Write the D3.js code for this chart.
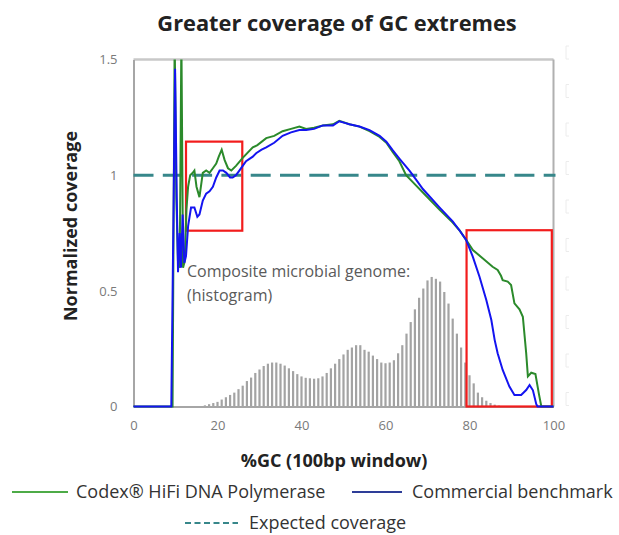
<!DOCTYPE html>
<html>
<head>
<meta charset="utf-8">
<script src="https://cdn.jsdelivr.net/npm/d3@7"></script>
<style>
  body { margin: 0; background: #fff; }
  svg { font-family: "Open Sans", sans-serif; }
</style>
</head>
<body>
<svg id="chart" width="619" height="535"></svg>
<script>
// histogram of the composite genome (one bar per %GC)
const histGC = d3.range(17, 88);
const histVal = [0.005, 0.01, 0.015, 0.02, 0.03, 0.04, 0.05, 0.06, 0.075, 0.09, 0.11,
  0.125, 0.145, 0.16, 0.175, 0.185, 0.19, 0.19, 0.185, 0.177, 0.165, 0.153, 0.14,
  0.13, 0.124, 0.122, 0.12, 0.122, 0.13, 0.145, 0.165, 0.185, 0.205, 0.225, 0.245,
  0.255, 0.265, 0.265, 0.245, 0.237, 0.22, 0.205, 0.19, 0.187, 0.19, 0.2, 0.23,
  0.265, 0.315, 0.365, 0.42, 0.47, 0.51, 0.545, 0.56, 0.552, 0.54, 0.495, 0.445,
  0.38, 0.315, 0.255, 0.19, 0.135, 0.1, 0.06, 0.04, 0.025, 0.015, 0.008, 0.004];

// Codex HiFi (green)
const codexGC = [0, 9.3, 9.8, 10.2, 10.6, 11.0, 11.4, 11.8, 12.2, 12.6, 13.0, 13.5, 14.1,
  14.5, 15.0, 15.7, 16.5, 17.3, 18.1, 18.9, 19.7, 20.3, 21.0, 21.7, 22.5, 23.3, 24.4,
  26.0, 28.4, 29.5, 31.6, 33.5, 35.5, 37.5, 39.5, 41.1, 43, 45.1, 47.5, 49, 51.4,
  53.8, 56.2, 58.6, 60.2, 61.7, 63.3, 64.9, 66.5, 68.9, 72.9, 76, 77.6, 79.2, 80.8,
  83.2, 85.5, 86.7, 87.5, 87.9, 89.1, 89.9, 90.7, 91.9, 92.7, 93.5, 93.9, 94.7,
  95.7, 96.5, 97.1, 100];
const codexCov = [0, 0, 1.6, 0.9, 0.62, 0.6, 1.6, 0.6, 0.63, 0.85, 0.95, 1.0, 1.01,
  1.02, 0.95, 0.905, 1.01, 1.02, 1.01, 1.03, 1.05, 1.08, 1.11, 1.065, 1.03, 1.02, 1.04,
  1.075, 1.12, 1.13, 1.16, 1.17, 1.19, 1.2, 1.21, 1.2, 1.205, 1.215, 1.22, 1.235, 1.22,
  1.21, 1.19, 1.165, 1.14, 1.1, 1.06, 1.0, 0.97, 0.925, 0.85, 0.795, 0.762, 0.72, 0.676,
  0.64, 0.604, 0.59, 0.565, 0.546, 0.54, 0.525, 0.446, 0.42, 0.388, 0.23, 0.13, 0.146,
  0.14, 0.057, 0, 0];

// Commercial benchmark (blue)
const benchGC = [0, 9.0, 9.5, 9.9, 10.3, 10.6, 11.0, 11.3, 11.7, 12.1, 12.5, 13.0, 13.7,
  14.5, 15.2, 15.7, 16.5, 17.3, 18.1, 18.9, 19.7, 20.5, 21.3, 22.1, 23.0, 23.6, 24.4,
  25.2, 26.0, 26.8, 28.4, 29.2, 30.5, 31.6, 33.5, 35.5, 37.5, 39.5, 41.1, 43, 45.1,
  47.5, 49, 50.5, 51.4, 53.8, 56.2, 58.6, 60.2, 61.7, 63.3, 65.7, 66.5, 68.9, 72.9,
  76, 77.6, 79.2, 80.8, 82.4, 84, 85.2, 86, 86.7, 87.9, 89.5, 90.7, 92.3, 93.5, 94.3,
  95.1, 95.9, 96.2, 100];
const benchCov = [0, 0, 0.8, 1.46, 0.9, 0.58, 0.75, 0.6, 0.83, 0.62, 0.65, 0.78, 0.86,
  0.86, 0.82, 0.83, 0.89, 0.92, 0.93, 0.95, 0.99, 1.02, 1.02, 1.01, 0.99, 0.99, 1.0,
  1.02, 1.04, 1.06, 1.08, 1.095, 1.11, 1.12, 1.14, 1.17, 1.185, 1.195, 1.195, 1.2, 1.215,
  1.215, 1.233, 1.225, 1.22, 1.21, 1.195, 1.17, 1.145, 1.108, 1.072, 1.02, 1.0, 0.94,
  0.86, 0.80, 0.762, 0.72, 0.647, 0.56, 0.46, 0.374, 0.287, 0.23, 0.158, 0.086, 0.05,
  0.05, 0.071, 0.093, 0.07, 0.01, 0, 0];

const xTicks = [0, 20, 40, 60, 80, 100];
const yTicks = [0, 0.5, 1, 1.5];
const yTickLabels = ["0", "0.5", "1", "1.5"];
const expected = 1;
// highlighted GC extremes: [x0, x1, y0, y1]
const boxes = [[12.5, 25.9, 0.76, 1.145], [79.3, 99.6, 0, 0.762]];

const svg = d3.select("#chart");
const x = d3.scaleLinear().domain([0, 100]).range([133.5, 553.5]);
const y = d3.scaleLinear().domain([0, 1.5]).range([406.5, 59.5]);

svg.append("defs").append("clipPath").attr("id", "plotClip")
  .append("rect").attr("x", 120).attr("y", y(1.5)).attr("width", 440).attr("height", y(0) - y(1.5) + 2);

//Title:
svg.append("text").attr("x", 337).attr("y", 31).attr("text-anchor", "middle")
  .attr("font-size", 21.8).attr("font-weight", "bold").attr("fill", "#222")
  .text("Greater coverage of GC extremes");

//Frame:
svg.append("line").attr("x1", x(0)).attr("x2", x(100)).attr("y1", y(1.5)).attr("y2", y(1.5))
  .attr("stroke", "#c8c8c8").attr("stroke-width", 2.5);
svg.append("line").attr("x1", x(100)).attr("x2", x(100)).attr("y1", y(1.5)).attr("y2", y(0))
  .attr("stroke", "#b0b0b0").attr("stroke-width", 2);

// faint marks right of the plot
svg.append("g").selectAll("path").data(d3.range(10)).join("path")
  .attr("d", i => `M569,${46 + i * 38.5}h-3v13h3`)
  .attr("fill", "none").attr("stroke", "#ececec").attr("stroke-width", 1);

//Histogram bars:
svg.append("g").selectAll("rect").data(histGC).join("rect")
  .attr("x", d => x(d) - 1.1).attr("width", 2.2)
  .attr("y", (d, i) => y(histVal[i])).attr("height", (d, i) => y(0) - y(histVal[i]))
  .attr("fill", "#a3a3a3");

//Axes:
const xAxis = svg.append("g").attr("transform", `translate(0,${y(0)})`)
  .call(d3.axisBottom(x).tickValues(xTicks).tickSize(0).tickPadding(14));
const yAxis = svg.append("g").attr("transform", `translate(${x(0)},0)`)
  .call(d3.axisLeft(y).tickValues(yTicks).tickSize(0).tickPadding(16)
    .tickFormat((d, i) => yTickLabels[i]));
[xAxis, yAxis].forEach(a => {
  a.select(".domain").attr("stroke", "#a6a6a6").attr("stroke-width", 2);
  a.selectAll("text").attr("font-size", 13).attr("fill", "#7a7a7a")
    .attr("font-family", "'Open Sans', sans-serif");
});

// expected coverage
svg.append("line").attr("x1", x(0)).attr("x2", x(100) + 2)
  .attr("y1", y(expected)).attr("y2", y(expected))
  .attr("stroke", "#37878a").attr("stroke-width", 3).attr("stroke-dasharray", "20,9.3");

//Red boxes:
svg.append("g").selectAll("rect").data(boxes).join("rect")
  .attr("x", d => x(d[0])).attr("y", d => y(d[3]))
  .attr("width", d => x(d[1]) - x(d[0])).attr("height", d => y(d[2]) - y(d[3]))
  .attr("fill", "none").attr("stroke", "#f21c1c").attr("stroke-width", 2.2);

//Lines:
const line = d3.line().x(d => x(d[0])).y(d => y(d[1]));
const lines = svg.append("g").attr("clip-path", "url(#plotClip)");
lines.append("path").datum(codexGC.map((g, i) => [g, codexCov[i]]))
  .attr("d", line).attr("fill", "none").attr("stroke", "#2b8a2b").attr("stroke-width", 2);
lines.append("path").datum(benchGC.map((g, i) => [g, benchCov[i]]))
  .attr("d", line).attr("fill", "none").attr("stroke", "#1414f0").attr("stroke-width", 2);

//Annotation:
const note = svg.append("text").attr("font-size", 16).attr("fill", "#5a5a5a");
note.append("tspan").attr("x", 187).attr("y", 277).text("Composite microbial genome:");
note.append("tspan").attr("x", 187).attr("y", 301).text("(histogram)");

//Axis titles:
svg.append("text").attr("x", 334).attr("y", 467).attr("text-anchor", "middle")
  .attr("font-size", 18).attr("font-weight", "bold").attr("fill", "#222")
  .text("%GC (100bp window)");
svg.append("text").attr("transform", "translate(77,226) rotate(-90)").attr("text-anchor", "middle")
  .attr("font-size", 18).attr("font-weight", "bold").attr("fill", "#222")
  .text("Normalized coverage");

//Legend:
const legend = [
  {label: "Codex® HiFi DNA Polymerase", color: "#4dab47", dash: null, x1: 12, x2: 68, tx: 76, ty: 492},
  {label: "Commercial benchmark", color: "#2e3d98", dash: null, x1: 352, x2: 402, tx: 412, ty: 492},
  {label: "Expected coverage", color: "#37878a", dash: "6,3.5", x1: 185, x2: 238, tx: 249, ty: 523}
];
const lg = svg.append("g").selectAll("g").data(legend).join("g");
lg.append("line").attr("x1", d => d.x1).attr("x2", d => d.x2)
  .attr("y1", d => d.ty).attr("y2", d => d.ty)
  .attr("stroke", d => d.color).attr("stroke-width", 2.2)
  .attr("stroke-dasharray", d => d.dash);
lg.append("text").attr("x", d => d.tx).attr("y", d => d.ty).attr("dy", "0.35em")
  .attr("font-size", 18).attr("fill", "#333").text(d => d.label);
</script>
</body>
</html>
